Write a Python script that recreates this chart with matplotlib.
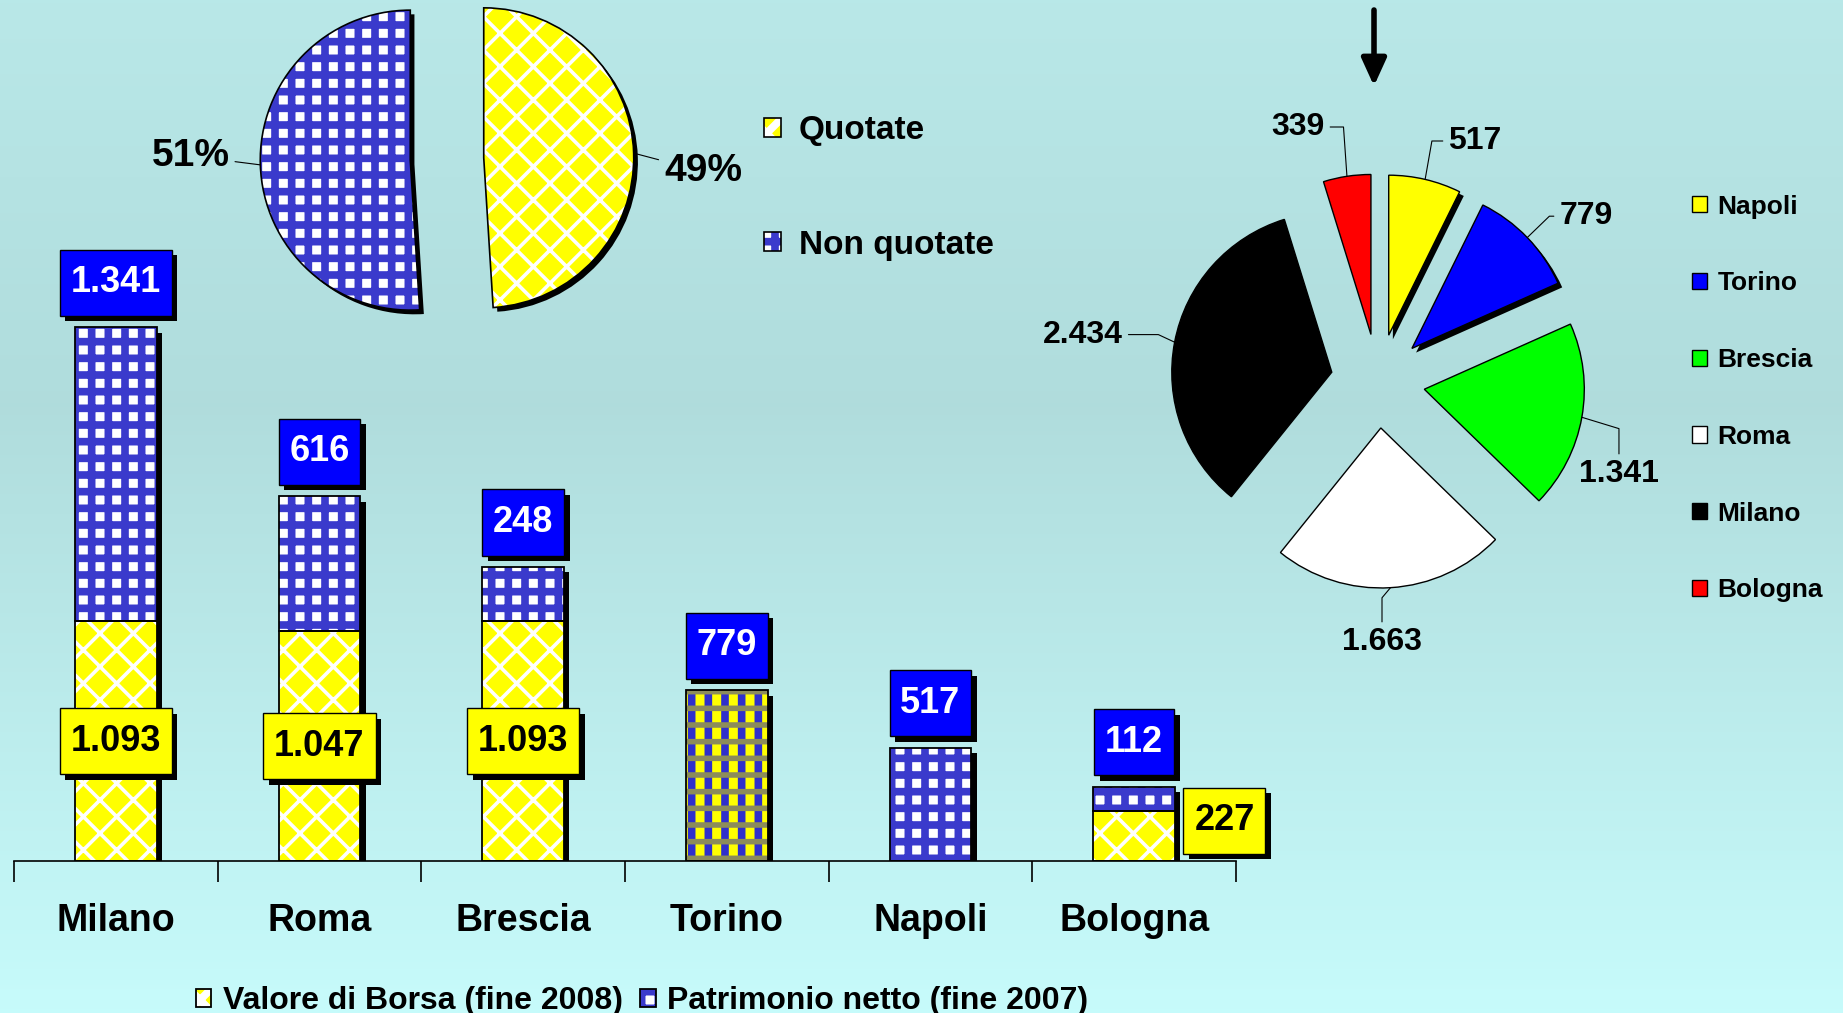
import numpy as np
import matplotlib as mpl
import matplotlib.pyplot as plt
from matplotlib import patheffects as pe
from matplotlib.path import Path
from matplotlib.legend_handler import HandlerTuple

plt.rcParams['font.family'] = ['Liberation Sans', 'DejaVu Sans']
plt.rcParams['font.weight'] = 'bold'

# ---- dati ----
citta = ['Milano', 'Roma', 'Brescia', 'Torino', 'Napoli', 'Bologna']
valore_borsa = [1093, 1047, 1093, 0, 0, 227]      # fine 2008
patrimonio = [1341, 616, 248, 779, 517, 112]      # fine 2007
serie_labels = ['Valore di Borsa (fine 2008)', 'Patrimonio netto (fine 2007)']

quota_labels = ['Quotate', 'Non quotate']
quota_pct = [49, 51]

pie_citta = ['Napoli', 'Torino', 'Brescia', 'Roma', 'Milano', 'Bologna']
pie_valori = [517, 779, 1341, 1663, 2434, 339]
pie_colori = ['#ffff00', '#0000ff', '#00ff00', '#ffffff', '#000000', '#ff0000']


def fmt(v):
    return f'{v:,}'.replace(',', '.')


def set_hlw(patches, lw):
    for p in patches:
        if hasattr(p, 'set_hatch_linewidth'):
            p.set_hatch_linewidth(lw)


def ombra(off=4):
    return [pe.SimplePatchShadow(offset=(off, -off), shadow_rgbFace='k', alpha=1), pe.Normal()]


def box_rett(x0, y0, width, height, mutation_size):
    # riquadro con margine orizzontale piu stretto di quello verticale
    px, py = 0.30 * mutation_size, 0.43 * mutation_size
    x0, y0 = x0 - px, y0 - py
    x1, y1 = x0 + width + 2 * px, y0 + height + 2 * py
    return Path([(x0, y0), (x1, y0), (x1, y1), (x0, y1), (x0, y0)], closed=True)


GIALLO = '#ffff00'
BLU = '#3a3acc'
LW_X = 2.6
LW_P = 5.5

W, H = 1843, 1013
fig = plt.figure(figsize=(W / 100, H / 100), dpi=100)

# sfondo sfumato
bg = fig.add_axes([0, 0, 1, 1], zorder=-10)
t = np.linspace(0, 1, 256)
stops = [0, 0.4, 1]
rgb = np.stack([np.interp(t, stops, [0.725, 0.69, 0.78]),
                np.interp(t, stops, [0.91, 0.865, 0.985]),
                np.interp(t, stops, [0.91, 0.865, 0.985])], axis=-1)
bg.imshow(rgb[:, None, :], aspect='auto', extent=[0, 1, 0, 1])
bg.axis('off')

# ---- grafico a barre ----
ax = fig.add_axes([14 / W, 152 / H, 1222 / W, 861 / H])
ax.patch.set_alpha(0)
x = np.arange(len(citta))
w = 0.4
totali = [a + b for a, b in zip(valore_borsa, patrimonio)]

ax.bar(x, totali, w, color='white', lw=0, zorder=1, path_effects=ombra(4))

plt.rcParams['hatch.linewidth'] = LW_X
b1 = ax.bar(x, valore_borsa, w, color=GIALLO, edgecolor='white', hatch='x', lw=0, zorder=2)
set_hlw(b1, LW_X)
plt.rcParams['hatch.linewidth'] = LW_P
b2 = ax.bar(x, patrimonio, w, bottom=valore_borsa, color='white', edgecolor=BLU, hatch='+', lw=0, zorder=2)
set_hlw(b2, LW_P)
# Torino: trama mista
b2[3].set_facecolor(GIALLO)
b2[3].set_edgecolor('#2f2fcc')
b2[3].set_hatch('|')
t2 = ax.bar(x[3], patrimonio[3], w, color='none', edgecolor='#8c8c5a', hatch='-', lw=0, zorder=2)
set_hlw(t2, 4)

o1 = ax.bar(x, valore_borsa, w, fill=False, edgecolor='k', lw=1.3, zorder=3)
o2 = ax.bar(x, patrimonio, w, bottom=valore_borsa, fill=False, edgecolor='k', lw=1.3, zorder=3)

for i in range(len(citta)):
    tt = ax.annotate(fmt(patrimonio[i]), (x[i], totali[i]), xytext=(0, 32), textcoords='offset points',
                     ha='center', va='center', fontsize=26, color='white', zorder=5,
                     bbox=dict(boxstyle=box_rett, fc='#0000ff', ec='k', lw=1))
    tt.get_bbox_patch().set_path_effects(ombra(4))
    if valore_borsa[i] > 0:
        off = (0, 0) if valore_borsa[i] > 500 else (65, 11)
        ty = ax.annotate(fmt(valore_borsa[i]), (x[i], valore_borsa[i] / 2), xytext=off, textcoords='offset points',
                         ha='center', va='center', fontsize=26, color='k', zorder=5,
                         bbox=dict(boxstyle=box_rett, fc=GIALLO, ec='k', lw=1))
        ty.get_bbox_patch().set_path_effects(ombra(4))

ax.set_xlim(-0.5, len(citta) - 0.5)
ax.set_ylim(0, 861 / 0.2193)
for s in ['left', 'right', 'top']:
    ax.spines[s].set_visible(False)
ax.spines['bottom'].set_linewidth(1.2)
ax.set_yticks([])
ax.set_xticks(x, citta, fontsize=27)
ax.set_xticks(np.arange(-0.5, len(citta)), minor=True)
ax.tick_params(axis='x', which='major', length=0, pad=30)
ax.tick_params(axis='x', which='minor', length=15, width=1.2, direction='out')

fig.legend([(b1[0], o1[0]), (b2[0], o2[0])], serie_labels, handler_map={tuple: HandlerTuple(ndivide=1)},
           loc='center', bbox_to_anchor=(642 / W, 12 / H), ncol=2, frameon=False, fontsize=23,
           handlelength=0.5, handleheight=0.5, handletextpad=0.35, columnspacing=0.55,
           borderpad=0, borderaxespad=0)

# ---- torta quotate / non quotate ----
R1 = 150
axp = fig.add_axes([(447 - 1.5 * R1) / W, (H - 159 - 1.5 * R1) / H, 3 * R1 / W, 3 * R1 / H])
esp = [0.245, 0.245]
axp.pie(quota_pct, startangle=90, counterclock=False, explode=esp, colors=['white', 'white'],
        wedgeprops=dict(lw=0, path_effects=ombra(3)))
plt.rcParams['hatch.linewidth'] = LW_X
wq, _ = axp.pie(quota_pct, startangle=90, counterclock=False, explode=esp, wedgeprops=dict(lw=0))
wq[0].set(facecolor=GIALLO, edgecolor='white', hatch='x')
set_hlw([wq[0]], LW_X)
plt.rcParams['hatch.linewidth'] = LW_P
wq[1].set(facecolor='white', edgecolor=BLU, hatch='+')
set_hlw([wq[1]], LW_P)
wo, _ = axp.pie(quota_pct, startangle=90, counterclock=False, explode=esp,
                wedgeprops=dict(fill=False, ec='k', lw=1.2))
axp.set_xlim(-1.5, 1.5)
axp.set_ylim(-1.5, 1.5)
axp.axis('off')
pos_q = [(1.707, -0.083), (-1.71, 0.02)]
for wg, v, p in zip(wq, quota_pct, pos_q):
    tm = np.deg2rad((wg.theta1 + wg.theta2) / 2)
    cx, cy = wg.center
    pt = (cx + np.cos(tm), cy + np.sin(tm))
    axp.annotate(f'{v}%', pt, xytext=p, ha='center', va='center', fontsize=28, annotation_clip=False,
                 arrowprops=dict(arrowstyle='-', lw=0.8, color='k', shrinkA=2, shrinkB=0))
axp.legend([(wq[0], wo[0]), (wq[1], wo[1])], quota_labels, handler_map={tuple: HandlerTuple(ndivide=1)},
           loc='center left', bbox_to_anchor=(764 / W, 1 - 188 / H), bbox_transform=fig.transFigure,
           frameon=False, fontsize=24, handlelength=0.5, handleheight=0.5, handletextpad=0.55,
           labelspacing=2.5, borderpad=0, borderaxespad=0)

# ---- torta per citta ----
R2 = 160
axr = fig.add_axes([(1378 - 1.5 * R2) / W, (H - 381 - 1.5 * R2) / H, 3 * R2 / W, 3 * R2 / H])
wr, _ = axr.pie(pie_valori, colors=pie_colori, startangle=90, counterclock=False,
                explode=[0.294] * len(pie_valori), wedgeprops=dict(ec='k', lw=1))
axr.set_xlim(-1.5, 1.5)
axr.set_ylim(-1.5, 1.5)
axr.axis('off')

pos_r = [(0.606, 1.50), (1.30, 1.03), (1.506, -0.584), (0.025, -1.634), (-1.844, 0.29), (-0.50, 1.5875)]
angoli = [(0, 80), (0, 44), (90, -17), (90, -130), (0, 155), (0, 94)]
for wg, v, p, (aa, ab) in zip(wr, pie_valori, pos_r, angoli):
    tm = np.deg2rad((wg.theta1 + wg.theta2) / 2)
    cx, cy = wg.center
    pt = (cx + np.cos(tm), cy + np.sin(tm))
    axr.annotate(fmt(v), pt, xytext=p, ha='center', va='center', fontsize=23, annotation_clip=False,
                 arrowprops=dict(arrowstyle='-', lw=0.8, color='k', shrinkA=2, shrinkB=0,
                                 connectionstyle=f'angle,angleA={aa},angleB={ab},rad=0'))

axr.legend(wr, pie_citta, loc='center left', bbox_to_anchor=(1692 / W, 1 - 398.5 / H),
           bbox_transform=fig.transFigure, frameon=False, fontsize=19, handlelength=0.57,
           handleheight=0.57, handletextpad=0.4, labelspacing=2.0, borderpad=0, borderaxespad=0)
for wg in wr[:2]:
    wg.set_path_effects(ombra(3))

# freccia
fig.add_artist(mpl.patches.FancyArrowPatch((1374 / W, 1 - 10 / H), (1374 / W, 1 - 86 / H),
                                           transform=fig.transFigure, arrowstyle='-|>,head_length=0.55,head_width=0.25',
                                           mutation_scale=30, lw=4, color='k', shrinkA=0, shrinkB=0))

fig.savefig('out.png', dpi=100)
